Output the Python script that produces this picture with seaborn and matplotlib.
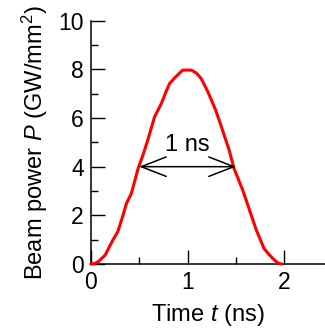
import matplotlib
matplotlib.use("Agg")
import matplotlib.pyplot as plt
import seaborn as sns
import pandas as pd
from matplotlib.ticker import MultipleLocator

# Data
time_ns = [0.0, 0.04, 0.08, 0.15, 0.22, 0.28, 0.33, 0.37, 0.42, 0.49, 0.54, 0.59,
           0.66, 0.73, 0.78, 0.815, 0.88, 0.95, 1.04, 1.09, 1.14, 1.21, 1.29,
           1.35, 1.43, 1.48, 1.57, 1.64, 1.71, 1.79, 1.84, 1.88, 1.93, 1.97]
power = [0.0, 0.02, 0.1, 0.37, 0.92, 1.33, 1.95, 2.5, 2.9, 3.93, 4.48, 5.1,
         6.05, 6.6, 7.1, 7.42, 7.7, 7.97, 7.97, 7.85, 7.63, 7.08, 6.33,
         5.64, 4.68, 3.93, 3.04, 2.22, 1.4, 0.64, 0.4, 0.23, 0.05, 0.0]
fwhm_start, fwhm_end, fwhm_level = 0.5, 1.5, 4.0
fwhm_label = "1 ns"
x_ticks = [0, 1, 2]
y_ticks = [0, 2, 4, 6, 8, 10]

sns.set_style("ticks")
plt.rcParams["font.family"] = ["Liberation Sans", "DejaVu Sans"]
plt.rcParams["mathtext.fontset"] = "custom"
plt.rcParams["mathtext.rm"] = "Liberation Sans"
plt.rcParams["mathtext.it"] = "Liberation Sans:italic"
plt.rcParams["text.color"] = "black"
plt.rcParams["axes.labelcolor"] = "black"
plt.rcParams["xtick.color"] = "black"
plt.rcParams["ytick.color"] = "black"

df = pd.DataFrame({"t": time_ns, "P": power})

fig = plt.figure(figsize=(3.25, 3.28), dpi=100)
ax = fig.add_axes([90.7 / 325, 64 / 328, (325 - 90.7) / 325, 243.3 / 328])

sns.lineplot(data=df, x="t", y="P", ax=ax, color="#ff0000", linewidth=2.2,
             sort=False, clip_on=False, zorder=3)

ax.set_xlim(0, 2.42)
ax.set_ylim(0, 10)
ax.set_xticks(x_ticks)
ax.set_yticks(y_ticks)
ax.xaxis.set_minor_locator(MultipleLocator(0.5))
ax.yaxis.set_minor_locator(MultipleLocator(1))

for s in ["top", "right"]:
    ax.spines[s].set_visible(False)
for s in ["left", "bottom"]:
    ax.spines[s].set_linewidth(1.1)
    ax.spines[s].set_color("black")

ax.tick_params(which="major", direction="in", length=10, width=1.0,
               labelsize=16.5, pad=5, colors="black")
ax.tick_params(which="minor", direction="in", length=5, width=1.0, colors="black")

ax.set_xlabel("Time $t$ (ns)", fontsize=17, labelpad=6, color="black")
ax.set_ylabel("Beam power $P$ (GW/mm$^2$)", fontsize=17, labelpad=6, color="black")

ax.annotate("", xy=(fwhm_start, fwhm_level), xytext=(fwhm_end, fwhm_level),
            arrowprops=dict(arrowstyle="<->,head_length=1.8,head_width=0.7",
                            lw=1.1, color="black", shrinkA=0, shrinkB=0,
                            mutation_scale=10))
ax.text((fwhm_start + fwhm_end) / 2, fwhm_level + 0.45, fwhm_label,
        ha="center", va="bottom", fontsize=17, color="black")

fig.savefig("out.png", dpi=100)
